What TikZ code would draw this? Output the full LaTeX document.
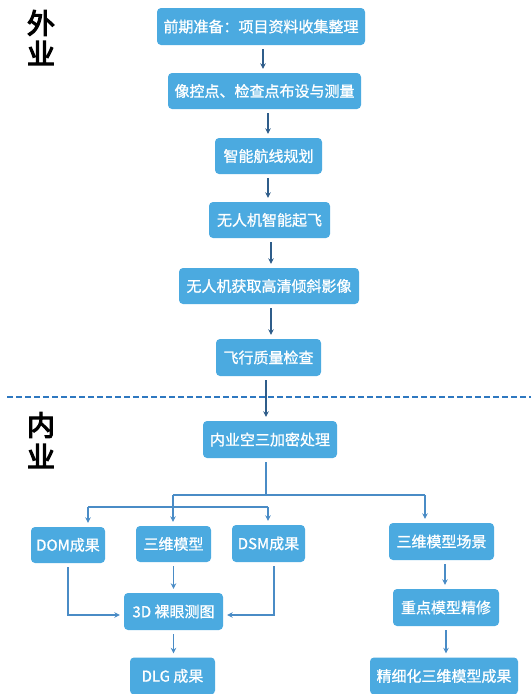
\documentclass[tikz,border=0pt]{standalone}
\usepackage{fontspec}
\setmainfont{Noto Sans CJK SC}
\newfontfamily\cjkbold{Noto Sans CJK SC}[FakeBold=4]
\newfontfamily\cjkmed{Noto Sans CJK SC}[FakeBold=1]
\usetikzlibrary{arrows.meta}
\definecolor{boxblue}{HTML}{4BAAE0}
\definecolor{navyarrow}{HTML}{2F5D8A}
\definecolor{lightarrow}{HTML}{4A8CC6}
\definecolor{dashblue}{HTML}{2E78C0}
\begin{document}
\begin{tikzpicture}[x=1pt,y=-1pt,
  box/.style={draw=none, fill=boxblue, rounded corners=4pt, text=white,
    font=\cjkmed\fontsize{15}{18}\selectfont, inner sep=0pt, align=center},
  toparr/.style={draw=navyarrow, line width=1.4pt, -{Stealth[length=5.5pt,width=5.5pt]},
    shorten <=4pt, shorten >=4pt},
  botarr/.style={draw=lightarrow, line width=1.4pt, -{Stealth[length=5.5pt,width=5.5pt]},
    shorten >=4pt},
  botline/.style={draw=lightarrow, line width=1.4pt},
  sidelabel/.style={font=\cjkbold\fontsize{28}{30}\selectfont, text=black, inner sep=0pt}]
\useasboundingbox (0,0) rectangle (531,694);
\clip (0,0) rectangle (531,694);

% side labels
\node[sidelabel] (w1) at (41,23) {外};
\node[sidelabel] (w2) at (41,53) {业};
\node[sidelabel] (n1) at (41,425) {内};
\node[sidelabel] (n2) at (41,456) {业};

% dashed divider
\coordinate (dl) at (7,397);
\coordinate (dr) at (531,397);
\draw[dashblue, line width=2.4pt, dash pattern=on 6pt off 3pt] (dl) -- (dr);

% field work
\node[box, minimum width=208pt, minimum height=37pt] (b1) at (261,26.5) {前期准备：项目资料收集整理};
\node[box, minimum width=193pt, minimum height=36pt] (b2) at (264.5,91) {像控点、检查点布设与测量};
\node[box, minimum width=107pt, minimum height=36pt] (b3) at (268.5,156) {智能航线规划};
\node[box, minimum width=121pt, minimum height=36pt] (b4) at (269.5,220) {无人机智能起飞};
\node[box, minimum width=180pt, minimum height=36pt] (b5) at (269,286) {无人机获取高清倾斜影像};
\node[box, minimum width=105pt, minimum height=37pt] (b6) at (268.5,357.5) {飞行质量检查};

% office work
\node[box, minimum width=134pt, minimum height=37pt] (b7) at (270,439.5) {内业空三加密处理};
\node[box, minimum width=74pt, minimum height=36pt] (dom) at (68,545) {DOM成果};
\node[box, minimum width=75pt, minimum height=36pt] (m3) at (173.5,544) {三维模型};
\node[box, minimum width=73pt, minimum height=37pt] (dsm) at (268.5,543.5) {DSM成果};
\node[box, minimum width=105pt, minimum height=37pt] (sc) at (441.5,541.5) {三维模型场景};
\node[box, minimum width=99pt, minimum height=37pt] (td) at (173.5,611.5) {3D 裸眼测图};
\node[box, minimum width=85pt, minimum height=37pt] (dlg) at (172.5,676) {DLG 成果};
\node[box, minimum width=106pt, minimum height=37pt] (kp) at (446,607.5) {重点模型精修};
\node[box, minimum width=148pt, minimum height=37pt] (fm) at (444,676) {精细化三维模型成果};

% x positions of the vertical arrows
\coordinate (a1) at (263,0);
\coordinate (a2) at (268,0);
\coordinate (a3) at (268,0);
\coordinate (a4) at (271,0);
\coordinate (a5) at (271,0);
\coordinate (a6) at (266,0);

% top arrows
\draw[toparr] (b1.south -| a1) -- (b2.north -| a1);
\draw[toparr] (b2.south -| a2) -- (b3.north -| a2);
\draw[toparr] (b3.south -| a3) -- (b4.north -| a3);
\draw[toparr] (b4.south -| a4) -- (b5.north -| a4);
\draw[toparr] (b5.south -| a5) -- (b6.north -| a5);
\draw[toparr] (b6.south -| a6) -- (b7.north -| a6);

% branching
\coordinate (j) at (266,495);
\coordinate (hl) at (173,495);
\coordinate (hr) at (425,495);
\coordinate (ll) at (88,507);
\coordinate (lr) at (268,507);
\draw[botline, shorten <=4pt] (b7.south -| j) -- (j);
\draw[botline] (hl) -- (hr);
\draw[botline] (ll) -- (lr);
\draw[botarr] (hl) -- (hl |- m3.north);
\draw[botarr] (hr) -- (hr |- sc.north);
\draw[botarr] (ll) -- (ll |- dom.north);
\draw[botarr] (lr) -- (lr |- dsm.north);

% to 3D view
\coordinate (dx) at (68,615);
\coordinate (sx) at (274,615);
\draw[botarr, shorten <=4pt] (dom.south -| dx) -- (dx) -- (dx -| td.west);
\draw[botarr, shorten <=4pt] (dsm.south -| sx) -- (sx) -- (sx -| td.east);
\draw[botarr, shorten <=4pt] (m3.south) -- (td.north);
\draw[botarr, shorten <=4pt] (td.south) -- (dlg.north -| td.south);
\coordinate (kx) at (445,0);
\draw[botarr, shorten <=4pt] (sc.south -| kx) -- (kp.north -| kx);
\draw[botarr, shorten <=4pt] (kp.south) -- (fm.north -| kp.south);
\end{tikzpicture}
\end{document}
